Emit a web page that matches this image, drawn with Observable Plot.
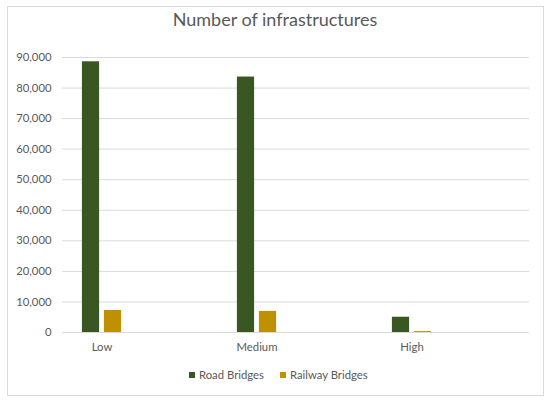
<!DOCTYPE html>
<html>
<head>
<meta charset="utf-8">
<script src="https://cdn.jsdelivr.net/npm/d3@7"></script>
<script src="https://cdn.jsdelivr.net/npm/@observablehq/plot@0.6"></script>
<style>
  html, body { margin: 0; padding: 0; background: #fff; }
  #wrap { position: relative; width: 550px; height: 402px; overflow: hidden; font-family: Lato, "Open Sans", sans-serif; color: #595959; }
  #frame { position: absolute; left: 7px; top: 6px; width: 537px; height: 390px; box-sizing: border-box; border: 1px solid #D9D9D9; }
  #title { position: absolute; left: 0; top: 10px; width: 550px; text-align: center; font-size: 18px; line-height: 18px; white-space: nowrap; }
  #chart { position: absolute; left: 0; top: 0; }
  #legend { position: absolute; left: 189px; top: 368px; display: flex; align-items: center; font-size: 11.3px; line-height: 14px; white-space: nowrap; }
  .sw { width: 6px; height: 6px; margin-right: 4px; }
  .item { display: flex; align-items: center; margin-right: 16px; }
</style>
</head>
<body>
<div id="wrap">
  <div id="frame"></div>
  <div id="chart"></div>
  <div id="title">Number of infrastructures</div>
  <div id="legend"></div>
</div>
<script>
const categories = ["Low", "Medium", "High"];
const series = ["Road Bridges", "Railway Bridges"];
const roadBridges = [88600, 83600, 5000];
const railwayBridges = [7200, 6900, 300];
const yTicks = [0, 10000, 20000, 30000, 40000, 50000, 60000, 70000, 80000, 90000];
const colors = ["#385723", "#BF9000"];

const road = categories.map((c, i) => ({category: c, series: series[0], value: roadBridges[i]}));
const rail = categories.map((c, i) => ({category: c, series: series[1], value: railwayBridges[i]}));

const chart = Plot.plot({
  width: 550,
  height: 402,
  marginTop: 57,
  marginBottom: 70,
  marginLeft: 62,
  marginRight: 21,
  style: {fontFamily: "Lato, 'Open Sans', sans-serif", fontSize: "11.3px", color: "#595959", background: "transparent", overflow: "visible"},
  x: {domain: categories, range: [23.8, 489.9], padding: 0, label: null, tickSize: 0, tickPadding: 10},
  y: {domain: [0, 90000], ticks: yTicks, tickFormat: d3.format(","), tickSize: 0, tickPadding: 11, label: null},
  color: {domain: series, range: colors},
  marks: [
    Plot.ruleY(yTicks, {stroke: "#D9D9D9", strokeWidth: 1}),
    Plot.barY(road, {x: "category", y: "value", fill: "series", insetLeft: 57.9, insetRight: 79.9}),
    Plot.barY(rail, {x: "category", y: "value", fill: "series", insetLeft: 79.9, insetRight: 57.9})
  ]
});
document.getElementById("chart").appendChild(chart);

const legend = document.getElementById("legend");
series.forEach((s, i) => {
  const item = document.createElement("div");
  item.className = "item";
  const sw = document.createElement("div");
  sw.className = "sw";
  sw.style.background = colors[i];
  const label = document.createElement("span");
  label.textContent = s;
  item.appendChild(sw);
  item.appendChild(label);
  legend.appendChild(item);
});
</script>
</body>
</html>
